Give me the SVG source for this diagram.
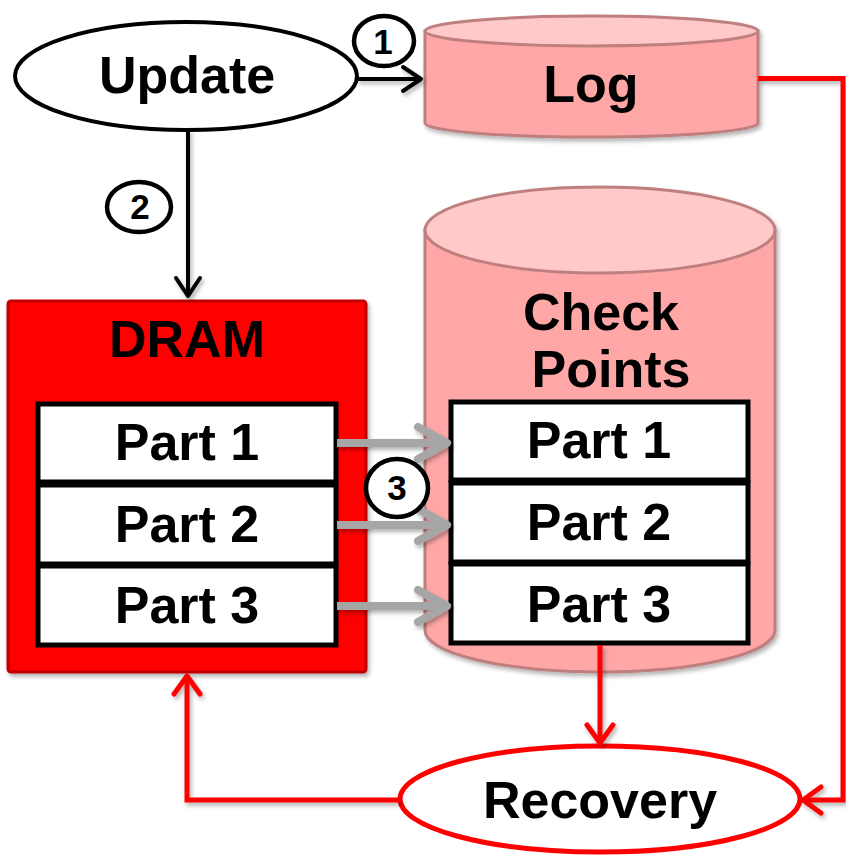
<svg xmlns="http://www.w3.org/2000/svg" width="846" height="855" viewBox="0 0 846 855">
  <style>
    .lbl { font-family: "Liberation Sans", Arial, sans-serif; font-weight: bold; fill: #000; text-anchor: middle; }
    .big { font-size: 52px; }
    .num { font-size: 35px; }
    .cyl-body { fill: #FFA7A7; stroke: #BF7F7F; stroke-width: 3; }
    .cyl-top { fill: #FFC9C9; stroke: #BF7F7F; stroke-width: 3; }
    .part { fill: #FFFFFF; stroke: #000; stroke-width: 5; }
    .blk { fill: none; stroke: #000; stroke-width: 4; }
    .gry { fill: none; stroke: #A6A6A6; stroke-width: 8; }
    .red { fill: none; stroke: #FF0000; stroke-width: 5; }
    .badge { fill: #FFFFFF; stroke: #000; stroke-width: 4.5; }
  </style>
  <defs>
    <filter id="sh" x="-20%" y="-20%" width="140%" height="140%">
      <feDropShadow dx="2" dy="3" stdDeviation="2" flood-color="#000" flood-opacity="0.3"/>
    </filter>
    <marker id="ah-black" markerUnits="userSpaceOnUse" markerWidth="40" markerHeight="40" viewBox="-30 -20 40 40" refX="0" refY="0" orient="auto" overflow="visible">
      <path d="M-18,-12 L0,0 L-18,12" fill="none" stroke="#000" stroke-width="4" stroke-linecap="round" stroke-linejoin="round"/>
    </marker>
    <marker id="ah-gray" markerUnits="userSpaceOnUse" markerWidth="60" markerHeight="60" viewBox="-40 -30 60 60" refX="0" refY="0" orient="auto" overflow="visible">
      <path d="M-29,-16 L0,0 L-29,16" fill="none" stroke="#A6A6A6" stroke-width="8" stroke-linecap="round" stroke-linejoin="round"/>
    </marker>
    <marker id="ah-red" markerUnits="userSpaceOnUse" markerWidth="40" markerHeight="40" viewBox="-30 -20 40 40" refX="0" refY="0" orient="auto" overflow="visible">
      <path d="M-18,-13 L0,0 L-18,13" fill="none" stroke="#FF0000" stroke-width="5" stroke-linecap="round" stroke-linejoin="round"/>
    </marker>
  </defs>

  <g id="update">
    <ellipse cx="186" cy="76" rx="171" ry="54" fill="#FFFFFF" stroke="#000" stroke-width="4"/>
    <text class="lbl big" x="187" y="93">Update</text>
  </g>

  <g id="log" filter="url(#sh)">
    <path class="cyl-body" d="M425,31 L425,123 A166.5,14 0 0 0 758,123 L758,31 Z"/>
    <ellipse class="cyl-top" cx="591.5" cy="31" rx="166.5" ry="15"/>
    <text class="lbl big" x="591" y="102">Log</text>
  </g>

  <g id="checkpoints" filter="url(#sh)">
    <path class="cyl-body" d="M425,230 L425,630 A175,42 0 0 0 775,630 L775,230 Z"/>
    <ellipse class="cyl-top" cx="600" cy="230" rx="175" ry="43"/>
    <text class="lbl big" x="601" y="330">Check</text>
    <text class="lbl big" x="611" y="387">Points</text>
  </g>

  <g id="dram">
    <rect x="8" y="301" width="358" height="371" rx="3" fill="#FF0000" stroke="#C00000" stroke-width="3" filter="url(#sh)"/>
    <text class="lbl big" x="187" y="357">DRAM</text>
  </g>

  <g id="dram-part1">
    <rect class="part" x="38" y="404" width="298" height="78"/>
    <text class="lbl big" x="187" y="460">Part 1</text>
  </g>
  <g id="dram-part2">
    <rect class="part" x="38" y="485" width="298" height="79"/>
    <text class="lbl big" x="187" y="542">Part 2</text>
  </g>
  <g id="dram-part3">
    <rect class="part" x="38" y="566" width="298" height="79"/>
    <text class="lbl big" x="187" y="623">Part 3</text>
  </g>

  <g id="cp-part1">
    <rect class="part" x="451" y="402" width="297" height="78"/>
    <text class="lbl big" x="599" y="458">Part 1</text>
  </g>
  <g id="cp-part2">
    <rect class="part" x="451" y="483" width="297" height="79"/>
    <text class="lbl big" x="599" y="540">Part 2</text>
  </g>
  <g id="cp-part3">
    <rect class="part" x="451" y="564" width="297" height="79"/>
    <text class="lbl big" x="599" y="622">Part 3</text>
  </g>

  <g id="recovery">
    <ellipse cx="600" cy="799" rx="200" ry="53" fill="#FFFFFF" stroke="#FF0000" stroke-width="5"/>
    <text class="lbl big" x="600" y="818">Recovery</text>
  </g>

  <g id="connectors" filter="url(#sh)">
    <path class="blk" d="M357,79 H421" marker-end="url(#ah-black)"/>
    <path class="blk" d="M188,130 V296" marker-end="url(#ah-black)"/>
    <path class="gry" d="M337,443 H447" marker-end="url(#ah-gray)"/>
    <path class="gry" d="M337,525 H447" marker-end="url(#ah-gray)"/>
    <path class="gry" d="M337,606 H447" marker-end="url(#ah-gray)"/>
    <path class="red" d="M758,78.5 H843 V800 H803" marker-end="url(#ah-red)"/>
    <path class="red" d="M600,645 V743" marker-end="url(#ah-red)"/>
    <path class="red" d="M400,800 H187 V676" marker-end="url(#ah-red)"/>
  </g>

  <g id="badge1">
    <ellipse class="badge" cx="384" cy="41" rx="30" ry="25"/>
    <text class="lbl num" x="383" y="54">1</text>
  </g>
  <g id="badge2">
    <ellipse class="badge" cx="139" cy="207" rx="32" ry="25"/>
    <text class="lbl num" x="140" y="219">2</text>
  </g>
  <g id="badge3">
    <ellipse class="badge" cx="397" cy="488" rx="31" ry="29"/>
    <text class="lbl num" x="397" y="500">3</text>
  </g>
</svg>
